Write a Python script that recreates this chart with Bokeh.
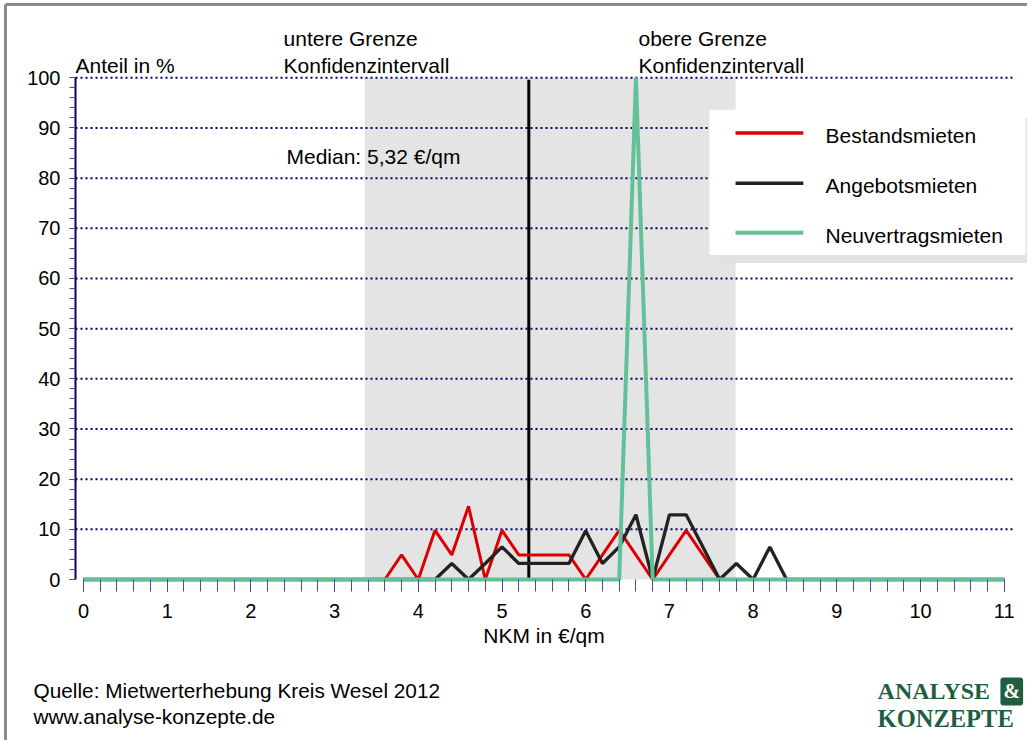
from bokeh.plotting import figure
from bokeh.models import Range1d, FixedTicker, Label, LinearAxis
from bokeh.embed import file_html
from bokeh.resources import INLINE

# ---------------- data ----------------
nkm = [0.0, 0.2, 0.4, 0.6, 0.8, 1.0, 1.2, 1.4, 1.6, 1.8,
       2.0, 2.2, 2.4, 2.6, 2.8, 3.0, 3.2, 3.4, 3.6, 3.8,
       4.0, 4.2, 4.4, 4.6, 4.8, 5.0, 5.2, 5.4, 5.6, 5.8,
       6.0, 6.2, 6.4, 6.6, 6.8, 7.0, 7.2, 7.4, 7.6, 7.8,
       8.0, 8.2, 8.4, 8.6, 8.8, 9.0, 9.2, 9.4, 9.6, 9.8,
       10.0, 10.2, 10.4, 10.6, 10.8, 11.0]

bestandsmieten = [0, 0, 0, 0, 0, 0, 0, 0, 0, 0,
                  0, 0, 0, 0, 0, 0, 0, 0, 0, 4.9,
                  0, 9.8, 4.9, 14.6, 0, 9.8, 4.9, 4.9, 4.9, 4.9,
                  0, 4.9, 9.8, 4.9, 0, 4.9, 9.8, 4.9, 0, 0,
                  0, 0, 0, 0, 0, 0, 0, 0, 0, 0,
                  0, 0, 0, 0, 0, 0]

angebotsmieten = [0, 0, 0, 0, 0, 0, 0, 0, 0, 0,
                  0, 0, 0, 0, 0, 0, 0, 0, 0, 0,
                  0, 0, 3.2, 0, 3.2, 6.5, 3.2, 3.2, 3.2, 3.2,
                  9.7, 3.2, 6.5, 12.9, 0, 12.9, 12.9, 6.5, 0, 3.2,
                  0, 6.5, 0, 0, 0, 0, 0, 0, 0, 0,
                  0, 0, 0, 0, 0, 0]

neuvertragsmieten = [0, 0, 0, 0, 0, 0, 0, 0, 0, 0,
                     0, 0, 0, 0, 0, 0, 0, 0, 0, 0,
                     0, 0, 0, 0, 0, 0, 0, 0, 0, 0,
                     0, 0, 0, 100, 0, 0, 0, 0, 0, 0,
                     0, 0, 0, 0, 0, 0, 0, 0, 0, 0,
                     0, 0, 0, 0, 0, 0]

series_names = ["Bestandsmieten", "Angebotsmieten", "Neuvertragsmieten"]
series_colors = ["#dd0000", "#222222", "#63c199"]

median = 5.32
ci_lower = 3.36
ci_upper = 7.79

x_ticks = [0, 1, 2, 3, 4, 5, 6, 7, 8, 9, 10, 11]
y_ticks = [0, 10, 20, 30, 40, 50, 60, 70, 80, 90, 100]

FONT = "Liberation Sans"
NAVY = "#000066"
X_AXIS_POS = -0.0956

# ---------------- figure ----------------
p = figure(width=1027, height=740,
           x_range=Range1d(-0.9916, 11.278), y_range=Range1d(-32.09, 115.41),
           output_backend="svg", toolbar_location=None,
           x_axis_location=None, y_axis_location=None,
           min_border=0)
p.outline_line_color = None
p.xgrid.visible = False
p.ygrid.visible = False
p.background_fill_color = "white"
p.border_fill_color = "white"

# outer frame (top and left edge)
p.segment(x0=[-0.932, -0.932], x1=[-0.932, 11.4], y0=[-40, 114.6], y1=[114.6, 114.6],
          line_color="#8a8a8a", line_width=3)

# confidence band
p.quad(left=[ci_lower], right=[ci_upper], bottom=[0], top=[100],
       fill_color="#e4e4e4", line_color=None)

# dotted horizontal grid lines
grid_y = y_ticks[1:]
p.segment(x0=[X_AXIS_POS] * len(grid_y), x1=[11.11] * len(grid_y),
          y0=grid_y, y1=grid_y, line_color=NAVY, line_width=2,
          line_dash="2 3")

# median line
p.segment(x0=[median], x1=[median], y0=[0], y1=[99.6],
          line_color="black", line_width=3)

# legend box with shadow
p.quad(left=[7.575], right=[11.35], bottom=[63.1], top=[92.0],
       fill_color="#e2e2e2", line_color=None)
p.quad(left=[7.479], right=[11.254], bottom=[64.68], top=[93.63],
       fill_color="white", line_color=None)

# data lines
p.line(nkm, bestandsmieten, line_color=series_colors[0], line_width=3)
p.line(nkm, angebotsmieten, line_color=series_colors[1], line_width=3.3)
p.line(nkm, neuvertragsmieten, line_color=series_colors[2], line_width=4)

# legend entries
leg_y = [89.0, 79.0, 69.1]
for name, col, ly in zip(series_names, series_colors, leg_y):
    p.segment(x0=[7.79], x1=[8.60], y0=[ly], y1=[ly], line_color=col,
              line_width=3.5 if col != series_colors[2] else 4)
    p.add_layout(Label(x=8.865, y=ly - 0.5, text=name, text_font=FONT,
                       text_font_size="21px", text_color="black",
                       text_baseline="middle", text_align="left"))

# axes (fixed inside the frame)
yax = LinearAxis(fixed_location=X_AXIS_POS)
yax.ticker = FixedTicker(ticks=y_ticks, minor_ticks=list(range(0, 101, 2)))
yax.bounds = (0, 100)
yax.axis_line_color = NAVY
yax.axis_line_width = 2
yax.major_tick_in = 0
yax.major_tick_out = 6
yax.minor_tick_in = 0
yax.minor_tick_out = 6
yax.major_tick_line_color = NAVY
yax.minor_tick_line_color = "#4a4a90"
yax.major_label_text_font = FONT
yax.major_label_text_font_size = "20px"
yax.major_label_text_color = "black"
yax.major_label_standoff = 9
p.add_layout(yax, "left")

xax = LinearAxis(fixed_location=0)
xax.ticker = FixedTicker(ticks=x_ticks, minor_ticks=[v for v in nkm])
xax.bounds = (0, 11)
xax.axis_line_color = None
xax.major_tick_in = 0
xax.major_tick_out = 12
xax.minor_tick_in = 0
xax.minor_tick_out = 12
xax.major_tick_line_color = NAVY
xax.minor_tick_line_color = "#4a4a90"
xax.major_label_text_font = FONT
xax.major_label_text_font_size = "20px"
xax.major_label_text_color = "black"
xax.major_label_standoff = 12
xax.axis_label = "NKM in €/qm"
xax.axis_label_text_font = FONT
xax.axis_label_text_font_size = "21px"
xax.axis_label_text_font_style = "normal"
xax.axis_label_text_color = "black"
xax.axis_label_standoff = 3
p.add_layout(xax, "below")

# annotations
def add_text(x, y, txt, size="21px", color="black", font=FONT, style="normal",
             align="left"):
    p.add_layout(Label(x=x, y=y, text=txt, text_font=font,
                       text_font_size=size, text_color=color,
                       text_font_style=style, text_baseline="middle",
                       text_align=align))

add_text(X_AXIS_POS, 102.4, "Anteil in %")
add_text(2.39, 107.9, "untere Grenze")
add_text(2.39, 102.5, "Konfidenzintervall")
add_text(6.63, 107.9, "obere Grenze")
add_text(6.63, 102.5, "Konfidenzintervall")
add_text(2.425, 84.3, "Median: 5,32 €/qm")

add_text(-0.597, -22.12, "Quelle: Mietwerterhebung Kreis Wesel 2012", size="20.8px")
add_text(-0.597, -27.31, "www.analyse-konzepte.de", size="20.8px")

LOGO = "#1f5f3f"
add_text(9.487, -22.2, "ANALYSE", size="24px", color=LOGO,
         font="Liberation Serif", style="bold")
add_text(9.487, -27.7, "KONZEPTE", size="24.5px", color=LOGO,
         font="Liberation Serif", style="bold")
p.add_layout(Label(x=11.09, y=-22.3, text="&", text_font="Liberation Serif",
                   text_font_size="20px", text_font_style="bold",
                   text_color="white", background_fill_color=LOGO,
                   text_baseline="middle", text_align="center",
                   padding=3, border_radius=3))

open("out.html", "w").write(file_html(p, INLINE))
